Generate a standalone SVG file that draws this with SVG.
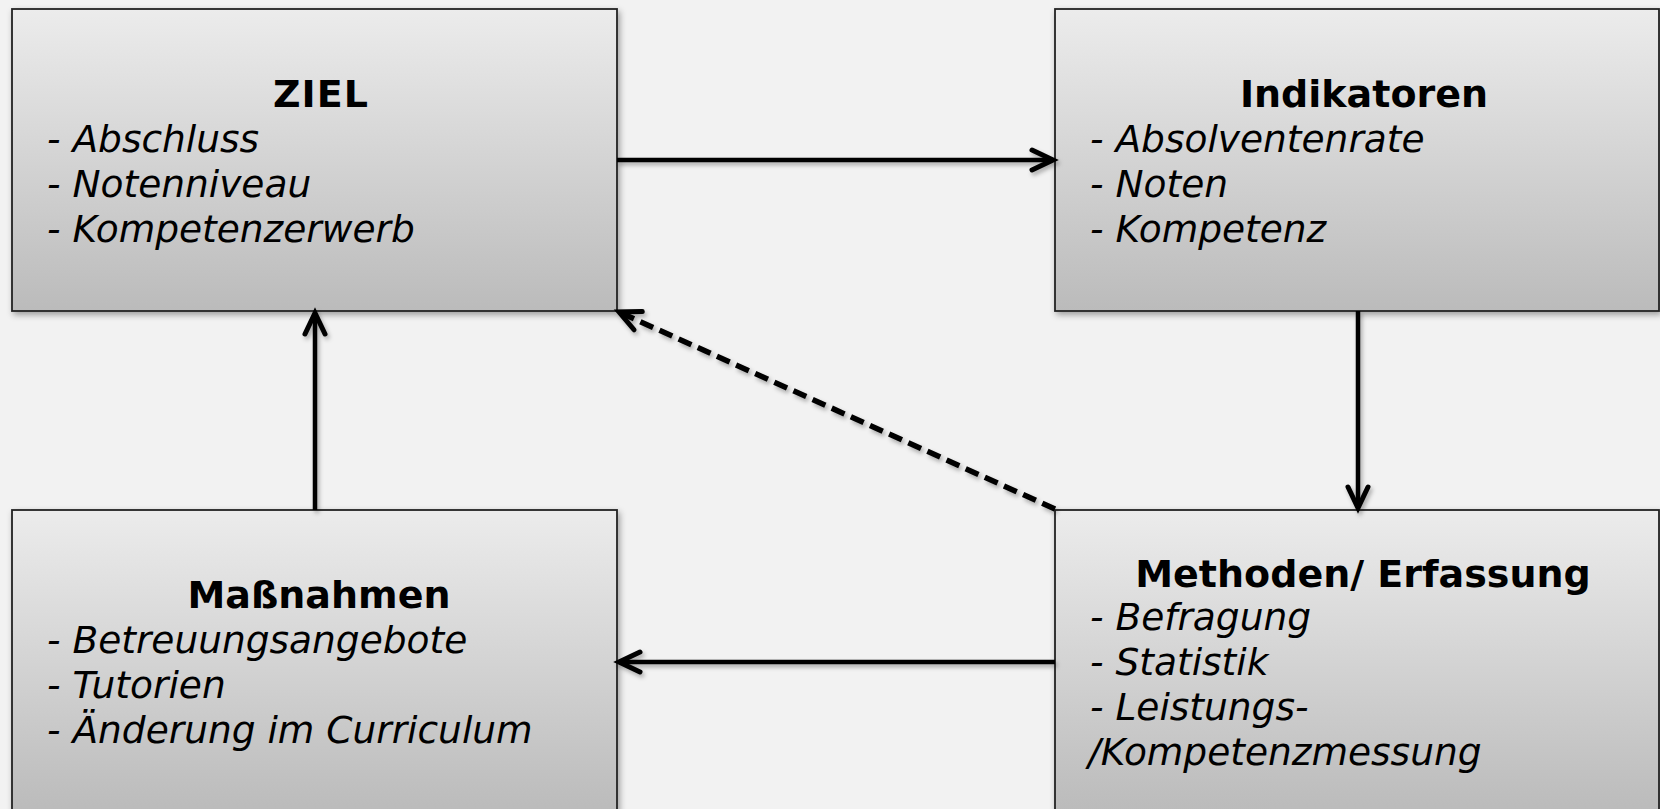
<svg xmlns="http://www.w3.org/2000/svg" width="1660" height="809" viewBox="0 0 1660 809">
  <defs>
    <linearGradient id="boxGrad" x1="0" y1="0" x2="0" y2="1">
      <stop offset="0" stop-color="#ececec"/>
      <stop offset="1" stop-color="#bbbbbb"/>
    </linearGradient>
    <filter id="shadow" x="-10%" y="-10%" width="120%" height="130%">
      <feDropShadow dx="2" dy="3" stdDeviation="3" flood-color="#000" flood-opacity="0.35"/>
    </filter>
    <filter id="lineShadow" x="-20%" y="-20%" width="140%" height="140%">
      <feDropShadow dx="2" dy="3" stdDeviation="2" flood-color="#000" flood-opacity="0.3"/>
    </filter>
    <marker id="arrow" markerUnits="userSpaceOnUse" markerWidth="40" markerHeight="40" refX="0" refY="0" viewBox="-30 -20 40 40" orient="auto">
      <path d="M -21,-10 L 0,0 L -21,10" fill="none" stroke="#000" stroke-width="5" stroke-linecap="round" stroke-linejoin="miter"/>
    </marker>
  </defs>
  <style>
    .box { fill: url(#boxGrad); stroke: #222; stroke-width: 1.8; filter: url(#shadow); }
    .title { font-family: "DejaVu Sans", Verdana, sans-serif; font-weight: bold; font-size: 38px; fill: #000; text-anchor: middle; }
    .item { font-family: "DejaVu Sans", Verdana, sans-serif; font-style: italic; font-size: 37.5px; fill: #000; }
    .conn { fill: none; stroke: #000; stroke-width: 4.5; marker-end: url(#arrow); }
    .dashed { stroke-width: 5.5; stroke-dasharray: 14 7; }
  </style>
  <rect width="1660" height="809" fill="#f2f2f2"/>

  <g id="ziel">
    <rect class="box" x="12" y="9" width="605" height="302"/>
    <text class="title" x="321" y="107" letter-spacing="1">ZIEL</text>
    <text class="item" x="47" y="152">- Abschluss</text>
    <text class="item" x="47" y="197">- Notenniveau</text>
    <text class="item" x="47" y="242">- Kompetenzerwerb</text>
  </g>

  <g id="indikatoren">
    <rect class="box" x="1055" y="9" width="604" height="302"/>
    <text class="title" x="1364" y="107">Indikatoren</text>
    <text class="item" x="1090" y="152">- Absolventenrate</text>
    <text class="item" x="1090" y="197">- Noten</text>
    <text class="item" x="1090" y="242">- Kompetenz</text>
  </g>

  <g id="massnahmen">
    <rect class="box" x="12" y="510" width="605" height="302"/>
    <text class="title" x="319" y="608">Maßnahmen</text>
    <text class="item" x="47" y="653">- Betreuungsangebote</text>
    <text class="item" x="47" y="698">- Tutorien</text>
    <text class="item" x="47" y="743">- Änderung im Curriculum</text>
  </g>

  <g id="methoden">
    <rect class="box" x="1055" y="510" width="604" height="302"/>
    <text class="title" x="1363" y="587">Methoden/ Erfassung</text>
    <text class="item" x="1090" y="630">- Befragung</text>
    <text class="item" x="1090" y="675">- Statistik</text>
    <text class="item" x="1090" y="720">- Leistungs-</text>
    <text class="item" x="1088" y="765">/Kompetenzmessung</text>
  </g>

  <g id="connectors" filter="url(#lineShadow)">
    <path class="conn" d="M 617,160 L 1053,160"/>
    <path class="conn" d="M 1358,311 L 1358,508"/>
    <path class="conn" d="M 1055,662 L 619,662"/>
    <path class="conn" d="M 315,510 L 315,313"/>
    <path class="conn dashed" d="M 1055,509 L 619,312"/>
  </g>
</svg>
